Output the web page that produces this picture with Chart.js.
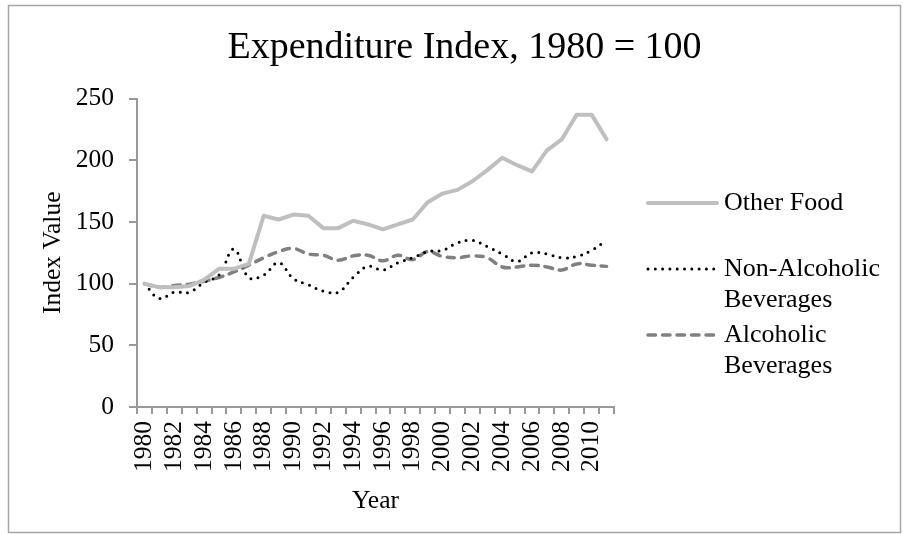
<!DOCTYPE html>
<html>
<head>
<meta charset="utf-8">
<title>Expenditure Index</title>
<script src="https://cdn.jsdelivr.net/npm/chart.js@4/dist/chart.umd.min.js"></script>
<style>
  html, body { margin: 0; padding: 0; background: #fff; }
  #wrap { position: relative; width: 903px; height: 534px; }
</style>
</head>
<body>
<div id="wrap"><canvas id="chart"></canvas></div>
<script>
const years = ['1980', '1981', '1982', '1983', '1984', '1985', '1986', '1987', '1988', '1989',
               '1990', '1991', '1992', '1993', '1994', '1995', '1996', '1997', '1998', '1999',
               '2000', '2001', '2002', '2003', '2004', '2005', '2006', '2007', '2008', '2009',
               '2010', '2011'];

const otherFood = [100, 97, 97, 98, 103, 112, 112, 116, 155, 152,
                   156, 155, 145, 145, 151, 148, 144, 148, 152, 166,
                   173, 176, 183, 192, 202, 196, 191, 208, 217, 237,
                   237, 217];

const nonAlcoholic = [100, 88, 93, 93, 101, 107, 128, 105, 107, 117,
                      104, 99, 94, 93, 105, 114, 111, 117, 121, 126,
                      127, 133, 135, 130, 124, 118, 125, 124, 121, 122,
                      127, 135];

const alcoholic = [100, 97, 98.5, 99.5, 102, 105, 109.5, 115, 121, 126,
                   128.5, 124, 123, 119, 122.5, 123, 118.5, 123, 119.5, 126,
                   122, 121, 122.5, 121, 113.5, 113.5, 115, 113.5, 111, 116,
                   115, 114];

const seriesNames = ['Other Food', 'Non-Alcoholic Beverages', 'Alcoholic Beverages'];
const legendLines = [['Other Food'], ['Non-Alcoholic', 'Beverages'], ['Alcoholic', 'Beverages']];
const yTicks = [0, 50, 100, 150, 200, 250];

const serif = '"Liberation Serif", "Times New Roman", serif';
const axisGray = '#999999';

// grey frame round the whole chart
const frame = {
    id: 'frame',
    beforeDraw(chart) {
        const c = chart.ctx;
        c.save();
        c.strokeStyle = '#a6a6a6';
        c.lineWidth = 1.5;
        c.strokeRect(8.5, 5.5, 892, 527);
        c.restore();
    }
};

// legend on the right, with wrapped labels like the original
const sideLegend = {
    id: 'sideLegend',
    afterDraw(chart) {
        const c = chart.ctx;
        const x0 = chart.chartArea.right + 34;
        let y = 203;
        c.save();
        c.font = '26px ' + serif;
        c.textBaseline = 'middle';
        c.fillStyle = '#000';
        chart.data.datasets.forEach((ds, i) => {
            c.beginPath();
            c.strokeStyle = ds.borderColor;
            c.lineWidth = ds.borderWidth;
            c.lineCap = ds.borderCapStyle || 'butt';
            c.setLineDash(ds.borderDash || []);
            c.moveTo(x0, y);
            c.lineTo(x0 + 69, y);
            c.stroke();
            legendLines[i].forEach((t, j) => c.fillText(t, x0 + 76, y + j * 31.5));
            y += 66;
        });
        c.restore();
    }
};

let ctx = document.getElementById('chart').getContext('2d');

new Chart(ctx, {
    type: 'line',
    data: {
        labels: years,
        datasets: [{
            label: seriesNames[0],
            data: otherFood,
            borderColor: '#bfbfbf',
            borderWidth: 4,
            borderCapStyle: 'round',
            borderJoinStyle: 'round',
            tension: 0,
            pointRadius: 0,
            fill: false
        }, {
            label: seriesNames[1],
            data: nonAlcoholic,
            borderColor: '#000000',
            borderWidth: 3,
            borderCapStyle: 'round',
            borderDash: [0, 7.3],
            tension: 0.4,
            pointRadius: 0,
            fill: false
        }, {
            label: seriesNames[2],
            data: alcoholic,
            borderColor: '#808080',
            borderWidth: 3.5,
            borderCapStyle: 'round',
            borderDash: [7.5, 7],
            tension: 0.4,
            pointRadius: 0,
            fill: false
        }]
    },
    options: {
        responsive: true,
        maintainAspectRatio: false,
        animation: false,
        layout: { padding: { left: 26, right: 0, top: 0, bottom: 0 } },
        plugins: {
            legend: { display: false },
            tooltip: { enabled: false },
            title: {
                display: true,
                text: 'Expenditure Index, 1980 = 100',
                color: '#000',
                font: { family: serif, size: 38, weight: 'normal' },
                padding: { top: 25, bottom: 28 }
            }
        },
        scales: {
            x: {
                type: 'category',
                offset: true,
                grid: {
                    offset: true,
                    drawOnChartArea: false,
                    drawTicks: true,
                    tickLength: 7,
                    color: axisGray,
                    lineWidth: 2
                },
                border: { display: true, color: axisGray, width: 2 },
                ticks: {
                    autoSkip: false,
                    maxRotation: 90,
                    minRotation: 90,
                    padding: 7,
                    color: '#000',
                    font: { family: serif, size: 25.5 },
                    callback: function(value, index) {
                        return index % 2 === 0 ? years[index] : '';
                    }
                },
                title: {
                    display: true,
                    text: 'Year',
                    color: '#000',
                    font: { family: serif, size: 25.5 },
                    padding: { top: 0, bottom: 17 }
                },
                afterFit(scale) { scale.height = 127; }
            },
            y: {
                min: 0,
                max: 250,
                afterBuildTicks(scale) { scale.ticks = yTicks.map(v => ({ value: v })); },
                grid: {
                    drawOnChartArea: false,
                    drawTicks: true,
                    tickLength: 8,
                    color: axisGray,
                    lineWidth: 2
                },
                border: { display: true, color: axisGray, width: 2 },
                ticks: {
                    padding: 15,
                    color: '#000',
                    font: { family: serif, size: 25.5 }
                },
                title: {
                    display: true,
                    text: 'Index Value',
                    color: '#000',
                    font: { family: serif, size: 25.5 },
                    padding: { top: 12, bottom: 0 }
                },
                afterFit(scale) { scale.width = 111; }
            },
            // empty column that keeps room for the legend
            gutter: {
                type: 'linear',
                position: 'right',
                display: true,
                grid: { display: false },
                border: { display: false },
                ticks: { display: false },
                afterFit(scale) { scale.width = 289; }
            }
        }
    },
    plugins: [frame, sideLegend]
});
</script>
</body>
</html>
